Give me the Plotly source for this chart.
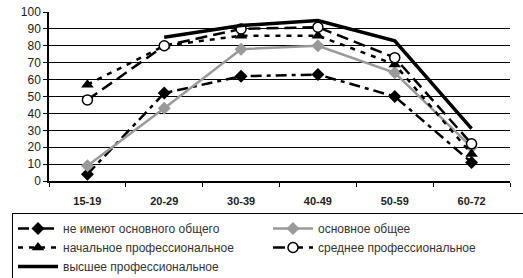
import plotly.graph_objects as go

categories = ["15-19", "20-29", "30-39", "40-49", "50-59", "60-72"]
ne_imeyut = [4, 52, 62, 63, 50, 11]
osnovnoe = [9, 43, 78, 80, 64, 20]
nachalnoe = [57, 80, 86, 86, 69, 16]
srednee = [48, 80, 90, 91, 73, 22]
vysshee = [None, 85, 92, 95, 83, 31]
y_ticks = list(range(0, 101, 10))
grid_ticks = list(range(10, 100, 10))

fig = go.Figure()
fig.add_trace(go.Scatter(
    x=categories, y=ne_imeyut, name="не имеют основного общего",
    mode="lines+markers",
    line=dict(color="black", width=2.5, dash="11px,5px,4px,5px"),
    marker=dict(symbol="diamond", size=10, color="black")))
fig.add_trace(go.Scatter(
    x=categories, y=osnovnoe, name="основное общее",
    mode="lines+markers",
    line=dict(color="#9a9a9a", width=2.5),
    marker=dict(symbol="diamond", size=10, color="#9a9a9a")))
fig.add_trace(go.Scatter(
    x=categories, y=nachalnoe, name="начальное профессиональное",
    mode="lines+markers",
    line=dict(color="black", width=2.5, dash="5px,6px"),
    marker=dict(symbol="triangle-up", size=11, color="black")))
fig.add_trace(go.Scatter(
    x=categories, y=srednee, name="среднее профессиональное",
    mode="lines+markers",
    line=dict(color="black", width=2.5, dash="12px,6px"),
    marker=dict(symbol="circle", size=10, color="white",
                line=dict(color="black", width=1.5))))
fig.add_trace(go.Scatter(
    x=categories, y=vysshee, name="высшее профессиональное",
    mode="lines",
    line=dict(color="black", width=3.5)))

fig.update_layout(
    width=523, height=278,
    margin=dict(l=49, r=13, t=12, b=97, autoexpand=False),
    paper_bgcolor="white", plot_bgcolor="white",
    font=dict(family="Liberation Sans, Arial, sans-serif", color="#222"),
    showlegend=True,
    legend=dict(
        orientation="h",
        x=(12 - 49) / 461, y=(181 - 213) / 169, xanchor="left", yanchor="top",
        entrywidth=200, entrywidthmode="pixels",
        bordercolor="black", borderwidth=1, bgcolor="white",
        font=dict(size=12, color="#333"),
        itemwidth=40, tracegroupgap=0),
    xaxis=dict(
        type="category", tickson="boundaries", ticks="outside", ticklen=4,
        tickcolor="black", showline=True, linecolor="black", linewidth=1.5,
        showgrid=False, ticklabelstandoff=9,
        tickfont=dict(size=11, color="#222", family="Liberation Sans, Arial, sans-serif"),
        range=[-0.5, 5.5], automargin=False),
    yaxis=dict(
        range=[0, 100], tickvals=y_ticks, ticks="outside", ticklen=4,
        tickcolor="black", showline=True, linecolor="black", linewidth=1.5,
        showgrid=False, zeroline=False, automargin=False,
        tickfont=dict(size=12, color="#222", family="Liberation Sans, Arial, sans-serif")),
    yaxis2=dict(
        range=[0, 100], tickvals=grid_ticks, overlaying="y", side="left",
        showgrid=True, gridcolor="black", gridwidth=1.2, automargin=False,
        showticklabels=False, ticks="", showline=False, zeroline=False),
)
fig.add_trace(go.Scatter(x=[categories[0]], y=[None], yaxis="y2",
                         showlegend=False, hoverinfo="skip"))
fig.update_xaxes(tickprefix="<b>", ticksuffix="</b>")
fig.update_layout(yaxis=dict(tickprefix="<b>", ticksuffix="</b>"))

# remove the browser's default 8px body margin so the figure fills the window
fig.write_html("out.html", config={"displayModeBar": False},
               post_script="document.body.style.margin='0';")
